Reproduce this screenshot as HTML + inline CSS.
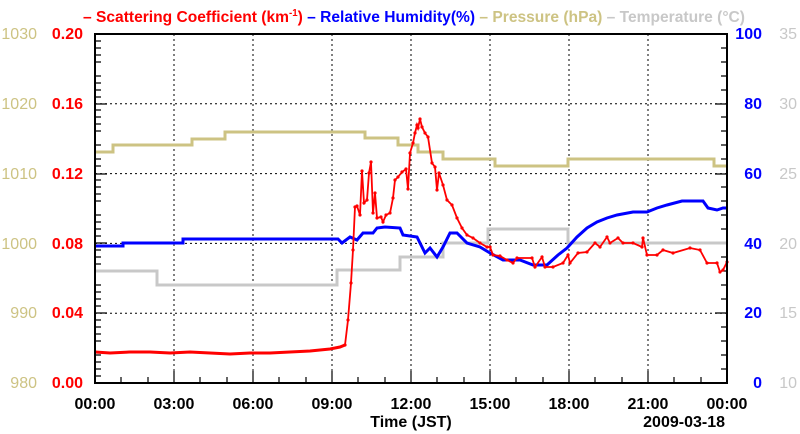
<!DOCTYPE html>
<html><head><meta charset="utf-8"><style>body{margin:0;background:#fff}svg{display:block}</style></head><body>
<svg width="800" height="434" viewBox="0 0 800 434" xmlns="http://www.w3.org/2000/svg" font-family="Liberation Sans, Arial, sans-serif">
<defs>
<marker id="rd" markerWidth="4" markerHeight="4" refX="2" refY="2" markerUnits="userSpaceOnUse"><circle cx="2" cy="2" r="1.6" fill="#ff0000"/></marker>
</defs>
<rect width="800" height="434" fill="#fff"/>
<text x="83" y="22" font-size="16" font-weight="bold" textLength="662" lengthAdjust="spacingAndGlyphs"><tspan fill="#ff0000">– Scattering Coefficient (km</tspan><tspan fill="#ff0000" font-size="10" dy="-6">-1</tspan><tspan fill="#ff0000" dy="6">) </tspan><tspan fill="#0000ff">– Relative Humidity(%) </tspan><tspan fill="#cdc383">– Pressure (hPa) </tspan><tspan fill="#c8c8c8">– Temperature (°C)</tspan></text>
<g stroke="#000" stroke-width="1" stroke-dasharray="2,3">
<line x1="174" y1="34" x2="174" y2="383"/><line x1="253" y1="34" x2="253" y2="383"/><line x1="332" y1="34" x2="332" y2="383"/><line x1="411" y1="34" x2="411" y2="383"/><line x1="490" y1="34" x2="490" y2="383"/><line x1="569" y1="34" x2="569" y2="383"/><line x1="648" y1="34" x2="648" y2="383"/>
<line x1="95" y1="313.2" x2="727" y2="313.2"/><line x1="95" y1="243.4" x2="727" y2="243.4"/><line x1="95" y1="173.6" x2="727" y2="173.6"/><line x1="95" y1="103.8" x2="727" y2="103.8"/>
</g>
<g stroke="#000" stroke-width="1.2">
<path d="M95 376H101M95 369H101M95 362H101M95 355H101M95 341H101M95 334H101M95 327H101M95 320H101M95 306H101M95 299H101M95 292H101M95 285H101M95 271H101M95 264H101M95 257H101M95 250H101M95 236H101M95 229H101M95 222H101M95 215H101M95 201H101M95 194H101M95 187H101M95 180H101M95 166H101M95 159H101M95 152H101M95 145H101M95 131H101M95 124H101M95 117H101M95 110H101M95 97H101M95 90H101M95 83H101M95 76H101M95 62H101M95 55H101M95 48H101M95 41H101"/>
<path d="M95 313H107M95 243H107M95 174H107M95 104H107"/>
<path d="M727 369H721M727 355H721M727 341H721M727 327H721M727 299H721M727 285H721M727 271H721M727 257H721M727 229H721M727 215H721M727 201H721M727 187H721M727 159H721M727 145H721M727 131H721M727 117H721M727 90H721M727 76H721M727 62H721M727 48H721"/>
<path d="M727 313H715M727 243H715M727 174H715M727 104H715"/>
<path d="M121 383V377M148 383V377M200 383V377M227 383V377M279 383V377M306 383V377M358 383V377M385 383V377M437 383V377M464 383V377M516 383V377M543 383V377M595 383V377M622 383V377M674 383V377M701 383V377"/>
<path d="M174 383V371M253 383V371M332 383V371M411 383V371M490 383V371M569 383V371M648 383V371"/>
</g>
<polyline fill="none" stroke="#c8c8c8" stroke-width="3" points="95,271 157,271 157,285 337,285 337,270 400,270 400,257 443,257 443,243 488,243 488,229 568,229 568,243 727,243"/>
<polyline fill="none" stroke="#cdc383" stroke-width="3" points="95,152 113,152 113,145 192,145 192,139 225,139 225,132 365,132 365,138 398,138 398,145 418,145 418,152 443,152 443,159 495,159 495,166 568,166 568,159 714,159 714,166 727,166"/>
<polyline fill="none" stroke="#0000ff" stroke-width="3" stroke-linejoin="miter" points="95,246 123,246 123,243 183,243 183,239 338,239 342,243 350,237 357,240 363,233 373,233 377,228 385,227 400,228 403,235 417,237 422,247 425,253 430,248 437,257 443,247 450,233 457,233 467,243 480,247 490,253 503,260 520,260 533,265 547,265 558,255 567,248 577,237 587,228 597,222 607,218 617,215 633,212 647,212 657,208 667,205 682,201 703,201 708,208 717,210 723,208 727,208"/>
<polyline fill="none" stroke="#ff0000" stroke-width="3" points="95,352 110,353 130,352 150,352 170,353 190,352 210,353 230,354 250,353 270,353 290,352 310,351 330,349 340,347 345,345"/>
<polyline fill="none" stroke="#ff0000" stroke-width="1.8" marker-start="url(#rd)" marker-mid="url(#rd)" marker-end="url(#rd)" points="345,345 348,320 351,283 353,250 355,207 357,206 360,215 362,171 364,203 367,200 369,173 371,162 373,213 375,193 377,218 381,217 383,222 386,215 390,213 393,198 395,180 398,177 402,172 406,169 408,189 410,153 413,143 415,133 417,125 418,128 420,119 422,127 425,133 428,137 432,163 435,167 437,190 439,173 443,185 447,200 452,205 457,218 462,228 467,235 473,238 480,243 487,247 490,247 493,255 500,256 507,260 513,263 517,258 532,258 535,267 542,257 545,267 553,267 563,263 568,255 570,263 578,253 587,252 595,243 600,247 607,237 610,243 618,238 623,243 633,243 642,247 643,238 647,255 657,255 663,250 673,253 690,248 700,250 707,263 717,263 720,272 723,270 727,262"/>
<rect x="95" y="34" width="632" height="349" fill="none" stroke="#000" stroke-width="2"/>
<g font-size="16" fill="#cdc383" text-anchor="end">
<text x="37" y="39">1030</text><text x="37" y="109">1020</text><text x="37" y="179">1010</text><text x="37" y="249">1000</text><text x="37" y="318">990</text><text x="37" y="388">980</text>
</g>
<g font-size="16" font-weight="bold" fill="#ff0000" text-anchor="end">
<text x="83" y="39">0.20</text><text x="83" y="109">0.16</text><text x="83" y="179">0.12</text><text x="83" y="249">0.08</text><text x="83" y="318">0.04</text><text x="83" y="388">0.00</text>
</g>
<g font-size="16" font-weight="bold" fill="#0000ff" text-anchor="end">
<text x="762" y="39">100</text><text x="762" y="109">80</text><text x="762" y="179">60</text><text x="762" y="249">40</text><text x="762" y="318">20</text><text x="762" y="388">0</text>
</g>
<g font-size="16" fill="#c8c8c8" text-anchor="end">
<text x="797" y="39">35</text><text x="797" y="109">30</text><text x="797" y="179">25</text><text x="797" y="249">20</text><text x="797" y="318">15</text><text x="797" y="388">10</text>
</g>
<g font-size="16" font-weight="bold" fill="#000" text-anchor="middle">
<text x="95" y="409">00:00</text><text x="174" y="409">03:00</text><text x="253" y="409">06:00</text><text x="332" y="409">09:00</text><text x="411" y="409">12:00</text><text x="490" y="409">15:00</text><text x="569" y="409">18:00</text><text x="648" y="409">21:00</text><text x="727" y="409">00:00</text>
<text x="411" y="427">Time (JST)</text>
<text x="725" y="427" text-anchor="end">2009-03-18</text>
</g>
</svg>
</body></html>
